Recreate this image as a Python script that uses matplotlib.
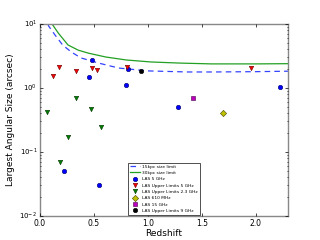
import matplotlib
matplotlib.use("Agg")
import matplotlib.pyplot as plt

plt.style.use('classic')
plt.rcParams['font.family'] = ['DejaVu Sans']

# size-limit curves
z15 = [0.075, 0.08, 0.14, 0.21, 0.29, 0.38, 0.54, 0.73, 1.0, 1.37, 1.6, 2.0, 2.3]
s15 = [10.0, 9.3, 6.7, 4.7, 3.65, 2.95, 2.46, 2.05, 1.85, 1.78, 1.78, 1.80, 1.83]
z30 = [0.112, 0.17, 0.26, 0.355, 0.45, 0.61, 0.80, 1.03, 1.3, 1.59, 2.0, 2.3]
s30 = [10.0, 7.2, 4.7, 3.9, 3.5, 3.05, 2.74, 2.55, 2.45, 2.38, 2.38, 2.40]

# LAS 5 GHz
z_5 = [0.486, 0.45, 0.80, 0.82, 2.23, 1.28, 0.225, 0.55]
las_5 = [2.75, 1.48, 1.11, 2.0, 1.04, 0.5, 0.05, 0.03]
# LAS upper limits 5 GHz
z_u5 = [0.18, 0.12, 0.33, 0.48, 0.53, 0.81, 1.96]
las_u5 = [2.1, 1.54, 1.85, 2.05, 1.9, 2.1, 2.05]
# LAS upper limits 2.3 GHz
z_u23 = [0.065, 0.33, 0.47, 0.26, 0.57, 0.19]
las_u23 = [0.42, 0.69, 0.47, 0.17, 0.245, 0.069]
# LAS 610 MHz
z_610 = [1.70]
las_610 = [0.41]
# LAS 15 GHz
z_15g = [1.42]
las_15g = [0.69]
# LAS upper limits 9 GHz
z_u9 = [0.94]
las_u9 = [1.85]

fig = plt.figure(figsize=(3.2, 2.4), dpi=100, facecolor='white')
ax = fig.add_axes([0.125, 0.1, 0.775, 0.8])
ax.set_facecolor('white')

ax.plot(z15, s15, '--', color='#3344ff', lw=0.9, dashes=(4, 3), label='15kpc size limit')
ax.plot(z30, s30, '-', color='#22a022', lw=0.9, label='30kpc size limit')
ms = 3.2
ax.plot(z_5, las_5, 'o', color='b', mec='#000066', mew=0.4, ms=ms, label='LAS 5 GHz')
ax.plot(z_u5, las_u5, 'v', color='r', mec='#660000', mew=0.4, ms=ms, label='LAS Upper Limits 5 GHz')
ax.plot(z_u23, las_u23, 'v', color='g', mec='#003300', mew=0.4, ms=ms, label='LAS Upper Limits 2.3 GHz')
ax.plot(z_610, las_610, 'D', color='y', mec='#444400', mew=0.4, ms=ms, label='LAS 610 MHz')
ax.plot(z_15g, las_15g, 's', color='m', mec='#440044', mew=0.4, ms=ms, label='LAS 15 GHz')
ax.plot(z_u9, las_u9, 'o', color='k', mec='k', mew=0.4, ms=ms, label='LAS Upper Limits 9 GHz')

ax.set_yscale('log')
ax.set_xlim(0, 2.3)
ax.set_ylim(0.01, 10)
ax.set_xticks([0.0, 0.5, 1.0, 1.5, 2.0])
ax.tick_params(axis='x', labelsize=5.5, length=2, width=0.5, pad=2)
ax.tick_params(axis='y', labelsize=5, length=2, width=0.5, pad=2)
ax.tick_params(which='minor', length=1, width=0.5)
for sp in ax.spines.values():
    sp.set_color('#888888')
    sp.set_linewidth(1.0)
ax.set_xlabel('Redshift', fontsize=6.5, labelpad=1)
ax.set_ylabel('Largest Angular Size (arcsec)', fontsize=6.5, labelpad=3)

leg = ax.legend(loc='lower center', fontsize=3.2, numpoints=1, handlelength=2.2,
                borderpad=0.4, labelspacing=0.5, handletextpad=0.6, frameon=True,
                borderaxespad=0.3)
leg.get_frame().set_linewidth(0.6)
leg.get_frame().set_edgecolor('#333333')

fig.savefig('out.png', dpi=100, facecolor='white')
